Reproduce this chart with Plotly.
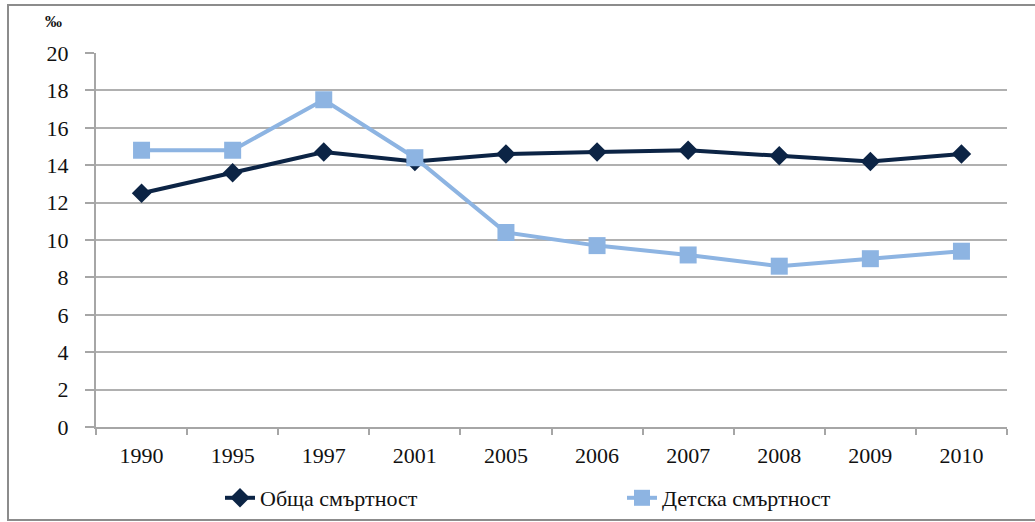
import plotly.graph_objects as go

years = ["1990", "1995", "1997", "2001", "2005", "2006", "2007", "2008", "2009", "2010"]
obshta = [12.5, 13.6, 14.7, 14.2, 14.6, 14.7, 14.8, 14.5, 14.2, 14.6]
detska = [14.8, 14.8, 17.5, 14.4, 10.4, 9.7, 9.2, 8.6, 9.0, 9.4]
y_ticks = [0, 2, 4, 6, 8, 10, 12, 14, 16, 18, 20]
names = ["Обща смъртност", "Детска смъртност"]

W, H = 1035, 522
L, R, T, B = 96, 28, 53, 95

FAM = "Liberation Serif"
font = dict(family=FAM, size=22, color="#111111")

fig = go.Figure()
fig.add_trace(go.Scatter(
    x=years, y=obshta, name=names[0], mode="lines+markers",
    line=dict(color="#0c2445", width=4),
    marker=dict(symbol="diamond", size=15, color="#0c2445"),
    legend="legend",
))
fig.add_trace(go.Scatter(
    x=years, y=detska, name=names[1], mode="lines+markers",
    line=dict(color="#8db4e2", width=4),
    marker=dict(symbol="square", size=17, color="#8db4e2"),
    legend="legend2",
))

pw = W - L - R
ph = H - T - B
def px(x):
    return (x - L) / pw
def py(y):
    return (H - B - y) / ph

leg_common = dict(xref="container", yref="container", yanchor="middle", xanchor="left",
                  y=1 - 498 / H, font=font, bgcolor="rgba(0,0,0,0)", borderwidth=0)

fig.update_layout(
    width=W, height=H,
    margin=dict(l=L, r=R, t=T, b=B, autoexpand=False),
    paper_bgcolor="white", plot_bgcolor="white",
    font=font,
    showlegend=True,
    legend=dict(x=220 / W, **leg_common),
    legend2=dict(x=622 / W, **leg_common),
    xaxis=dict(type="category", showgrid=False, showline=True, linecolor="#a6a6a6", linewidth=2,
               ticks="outside", tickcolor="#a6a6a6", ticklen=6, tickwidth=2,
               tickson="boundaries", tickfont=font, range=[-0.5, 9.5], ticklabelstandoff=8),
    yaxis=dict(range=[0, 20], tickvals=y_ticks, showgrid=True, gridcolor="#b0b0b0", gridwidth=2,
               showline=True, linecolor="#a6a6a6", linewidth=2, ticks="outside", tickcolor="#a6a6a6",
               ticklen=9, tickwidth=2, tickfont=font, zeroline=False, ticklabelstandoff=12),
    annotations=[dict(text="<b>‰</b>", xref="paper", yref="paper", x=px(53), y=py(22), xanchor="center",
                      yanchor="middle", showarrow=False, font=dict(family=FAM, size=17, color="#111111"))],
    shapes=[dict(type="rect", xref="paper", yref="paper", x0=px(8), x1=px(1080), y0=py(520), y1=py(5),
                 line=dict(color="#8c8c8c", width=2), layer="below")],
)

fig.write_html("out.html", config={"displayModeBar": False},
               post_script="document.body.style.margin='0';")
